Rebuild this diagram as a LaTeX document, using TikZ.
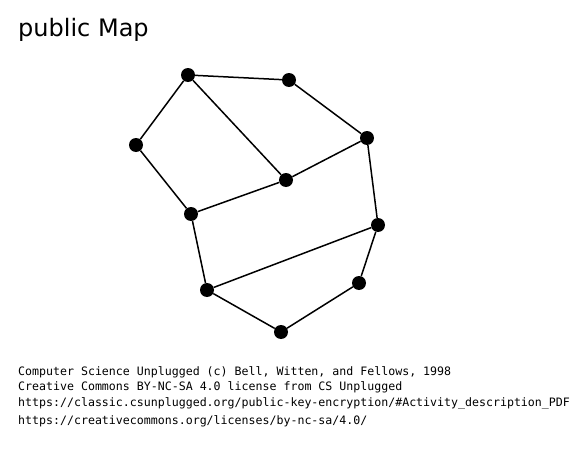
\documentclass[tikz,border=0pt]{standalone}
\usepackage{fontspec}
\newfontfamily\titlefont{DejaVu Sans}
\newfontfamily\notefont{DejaVu Sans Mono}
\begin{document}
\begin{tikzpicture}[x=1pt, y=-1pt,
  dot/.style={circle, fill=black, inner sep=0pt, minimum size=14pt},
  edge/.style={line width=1.5pt, black},
  note/.style={anchor=base west, inner sep=0pt, font=\notefont\fontsize{11.6}{14}\selectfont}]
  % 画布（与参考图同尺寸）
  \useasboundingbox (0,0) rectangle (582,455);

  % 1. 标题
  \node[anchor=base west, inner sep=0pt, font=\titlefont\fontsize{24}{28}\selectfont] (title) at (18,36) {public Map};

  % 2. 顶点
  \node[dot] (a) at (188,75) {};
  \node[dot] (b) at (289,80) {};
  \node[dot] (c) at (136,145) {};
  \node[dot] (d) at (367,138) {};
  \node[dot] (e) at (286,180) {};
  \node[dot] (f) at (191,214) {};
  \node[dot] (g) at (378,225) {};
  \node[dot] (h) at (207,290) {};
  \node[dot] (i) at (359,283) {};
  \node[dot] (j) at (281,332) {};

  % 3. 边
  \draw[edge] (a) -- (b);
  \draw[edge] (a) -- (c);
  \draw[edge] (a) -- (e);
  \draw[edge] (b) -- (d);
  \draw[edge] (c) -- (f);
  \draw[edge] (e) -- (d);
  \draw[edge] (f) -- (e);
  \draw[edge] (f) -- (h);
  \draw[edge] (d) -- (g);
  \draw[edge] (g) -- (h);
  \draw[edge] (g) -- (i);
  \draw[edge] (i) -- (j);
  \draw[edge] (h) -- (j);

  % 4. 版权说明
  \node[note] (n1) at (18,375) {Computer Science Unplugged (c) Bell, Witten, and Fellows, 1998};
  \node[note] (n2) at (18,390) {Creative Commons BY-NC-SA 4.0 license from CS Unplugged};
  \node[note] (n3) at (18,406) {https://classic.csunplugged.org/public-key-encryption/\#Activity\_description\_PDF};
  \node[note] (n4) at (18,424) {https://creativecommons.org/licenses/by-nc-sa/4.0/};
\end{tikzpicture}
\end{document}
